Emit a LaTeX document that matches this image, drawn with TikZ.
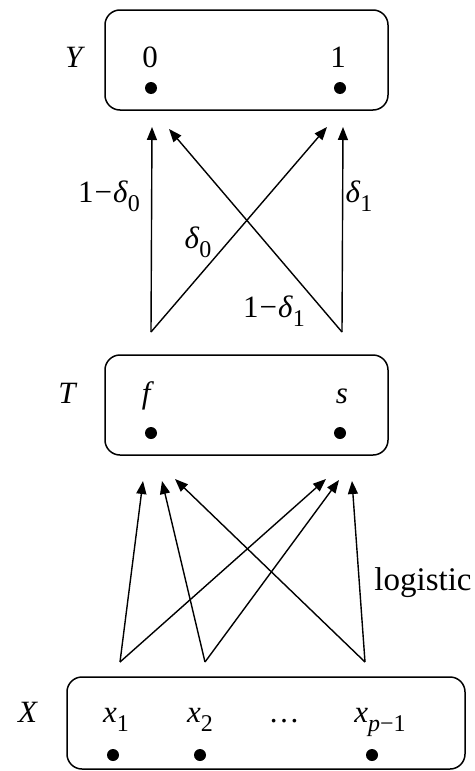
\documentclass[tikz,border=0pt]{standalone}
\usepackage{fontspec}
\setmainfont{Liberation Serif}
\usetikzlibrary{arrows.meta}
\newcommand\lsub[1]{\raisebox{-0.32em}{\fontsize{24}{24}\selectfont #1}}
\newcommand\mdelta{\textit{δ}}
\begin{document}
\begin{tikzpicture}[x=1pt,y=-1pt,
  box/.style={draw, rounded corners=15pt, line width=1.5pt, inner sep=0pt},
  dotn/.style={circle, fill=black, inner sep=0pt, minimum size=12pt},
  lbl/.style={font=\fontsize{31}{31}\selectfont, inner sep=0pt, anchor=base},
  arr/.style={-{Triangle[length=13pt,width=10pt]}, line width=1.4pt}]
\useasboundingbox (0,0) rectangle (474,771);
% boxes
\node[box, minimum width=283pt, minimum height=100pt] (ybox) at (246.5,60) {};
\node[box, minimum width=283pt, minimum height=100pt] (tbox) at (246.5,405) {};
\node[box, minimum width=398pt, minimum height=92pt] (xbox) at (266,723) {};
% Y row
\node[lbl] (ylab) at (75,67) {\textit{Y}};
\node[lbl] (y0) at (150,67) {0};
\node[lbl] (y1) at (338,67) {1};
\node[dotn] (dy0) at (151,88) {};
\node[dotn] (dy1) at (340,88) {};
% T row
\node[lbl] (tlab) at (68,403) {\textit{T}};
\node[lbl] (tf) at (148,403) {\textit{f}};
\node[lbl] (ts) at (342,403) {\textit{s}};
\node[dotn] (dtf) at (151,433) {};
\node[dotn] (dts) at (340,433) {};
% X row
\node[lbl] (xlab) at (28,722) {\textit{X}};
\node[lbl] (x1) at (116,722) {\textit{x}\lsub{1}};
\node[lbl] (x2) at (200,722) {\textit{x}\lsub{2}};
\node[lbl] (xdots) at (284,722) {…};
\node[lbl] (xp) at (380,722) {\textit{x}\lsub{\textit{p}−1}};
\node[dotn] (dx1) at (113,755) {};
\node[dotn] (dx2) at (200,755) {};
\node[dotn] (dxp) at (372,755) {};
% arrow coordinates T -> Y
\coordinate (tfs) at (151,332);
\coordinate (tss) at (342,332);
\coordinate (y0a) at (152,127);
\coordinate (y0b) at (169,129);
\coordinate (y1a) at (327,127);
\coordinate (y1b) at (343,127);
\draw[arr] (tfs) -- (y0a);
\draw[arr] (tss) -- (y0b);
\draw[arr] (tfs) -- (y1a);
\draw[arr] (tss) -- (y1b);
% labels T -> Y
\node[lbl] (l1) at (109,202) {1\kern1pt−\kern1pt\mdelta\lsub{0}};
\node[lbl] (l2) at (198,248) {\mdelta\lsub{0}};
\node[lbl] (l3) at (359,202) {\mdelta\lsub{1}};
\node[lbl] (l4) at (274,317) {1\kern1pt−\kern1pt\mdelta\lsub{1}};
% arrow coordinates X -> T
\coordinate (s1) at (120,662);
\coordinate (s2) at (205,662);
\coordinate (s3) at (365,662);
\coordinate (fa) at (143,481);
\coordinate (fb) at (162,481);
\coordinate (fc) at (175,479);
\coordinate (sa) at (326,479);
\coordinate (sb) at (339,480);
\coordinate (sc) at (352,481);
\draw[arr] (s1) -- (fa);
\draw[arr] (s1) -- (sa);
\draw[arr] (s2) -- (fb);
\draw[arr] (s2) -- (sb);
\draw[arr] (s3) -- (fc);
\draw[arr] (s3) -- (sc);
\node[lbl, font=\fontsize{33}{33}\selectfont] (logi) at (423,590) {logistic};
\end{tikzpicture}
\end{document}
